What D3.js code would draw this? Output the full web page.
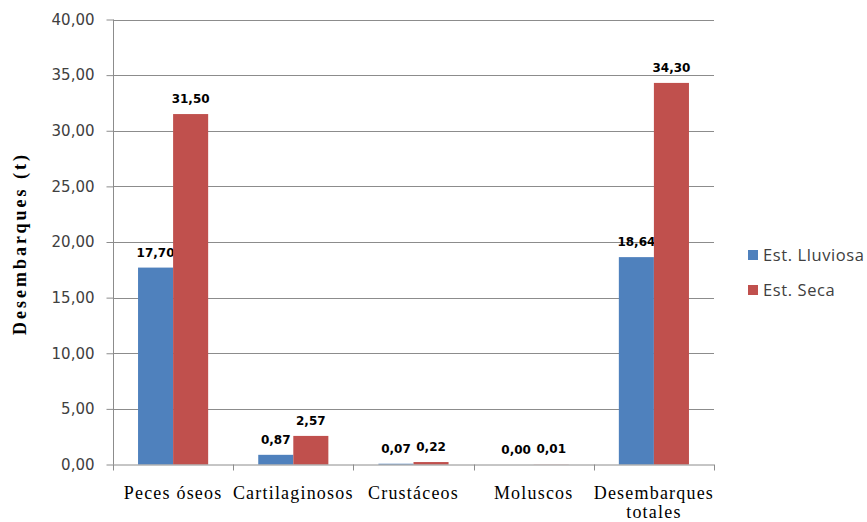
<!DOCTYPE html>
<html><head><meta charset="utf-8">
<script src="https://cdn.jsdelivr.net/npm/d3@7"></script>
<style>body{margin:0;background:#fff;} svg{display:block;}</style>
</head><body>
<svg id="c" width="867" height="522"></svg>
<script>
const categories = [["Peces óseos"], ["Cartilaginosos"], ["Crustáceos"], ["Moluscos"], ["Desembarques", "totales"]];
const seriesNames = ["Est. Lluviosa", "Est. Seca"];
const lluviosa = [17.70, 0.87, 0.07, 0.00, 18.64];
const seca = [31.50, 2.57, 0.22, 0.01, 34.30];
const yTicks = [0, 5, 10, 15, 20, 25, 30, 35, 40];
const colors = ["#4F81BD", "#C0504D"];

(function () {
const svg = d3.select("#c");
const pL = 113, pR = 714, pT = 19.5, pB = 464.5;
const fmt = v => v.toFixed(2).replace(".", ",");

const x = d3.scaleBand().domain(d3.range(categories.length)).range([pL, pR]).paddingInner(0).paddingOuter(0);
const y = d3.scaleLinear().domain([0, 40]).range([pB, pT]);
const inner = d3.scaleBand().domain([0, 1]).range([0, x.bandwidth()]).paddingOuter(25 / 35).paddingInner(0);

// gridlines
svg.append("g").selectAll("line").data(yTicks.filter(d => d > 0)).join("line")
  .attr("x1", pL).attr("x2", pR)
  .attr("y1", d => Math.round(y(d)) + 0.5).attr("y2", d => Math.round(y(d)) + 0.5)
  .attr("stroke", "#8c8c8c").attr("stroke-width", 1);

// y axis
const yAxis = d3.axisLeft(y).tickValues(yTicks).tickFormat(fmt).tickSize(7).tickPadding(12);
const gy = svg.append("g").attr("transform", `translate(${pL + 0.5},0)`).call(yAxis);
gy.select(".domain").attr("stroke", "#8c8c8c").attr("d", `M0,${pT}V${pB}`);
gy.selectAll(".tick line").attr("stroke", "#8c8c8c");
gy.selectAll(".tick text").attr("font-family", "DejaVu Sans").attr("font-size", 15).attr("fill", "#404040");

// bars
const series = [lluviosa, seca];
series.forEach((vals, si) => {
  svg.append("g").selectAll("rect").data(vals).join("rect")
    .attr("x", (d, i) => x(i) + inner(si))
    .attr("width", inner.bandwidth())
    .attr("y", d => y(d))
    .attr("height", d => pB - y(d))
    .attr("fill", colors[si]);
  svg.append("g").selectAll("text").data(vals).join("text")
    .attr("x", (d, i) => x(i) + inner(si) + inner.bandwidth() / 2)
    .attr("y", d => y(d) - 11)
    .attr("text-anchor", "middle")
    .attr("font-family", "DejaVu Sans").attr("font-weight", "bold").attr("font-size", 12)
    .attr("fill", "#000")
    .text(fmt);
});

// x axis
const xAxis = d3.axisBottom(x).tickSize(0).tickFormat(() => "");
const gx = svg.append("g").attr("transform", `translate(0,${pB + 0.5})`).call(xAxis);
gx.select(".domain").attr("stroke", "#8c8c8c").attr("d", `M${pL},0H${pR}`);
svg.append("g").selectAll("line").data(d3.range(categories.length + 1)).join("line")
  .attr("x1", i => Math.round(i < categories.length ? x(i) : pR) + 0.5)
  .attr("x2", i => Math.round(i < categories.length ? x(i) : pR) + 0.5)
  .attr("y1", pB).attr("y2", pB + 6)
  .attr("stroke", "#8c8c8c");

// category labels
const cl = svg.append("g").selectAll("text").data(categories).join("text")
  .attr("text-anchor", "middle")
  .attr("font-family", "Liberation Serif").attr("font-size", 18).attr("letter-spacing", 1.2).attr("fill", "#000");
cl.each(function(lines, i) {
  d3.select(this).selectAll("tspan").data(lines).join("tspan")
    .attr("x", x(i) + x.bandwidth() / 2)
    .attr("y", (d, j) => 499 + j * 19)
    .text(d => d);
});

// y title
svg.append("text")
  .attr("transform", "translate(26,243.5) rotate(-90)")
  .attr("text-anchor", "middle")
  .attr("font-family", "Liberation Serif").attr("font-weight", "bold").attr("font-size", 18)
  .attr("letter-spacing", 3)
  .attr("fill", "#000")
  .text("Desembarques (t)");

// legend
const lg = svg.append("g").selectAll("g").data(seriesNames).join("g")
  .attr("transform", (d, i) => `translate(748,${255 + i * 35})`);
lg.append("rect").attr("x", 0).attr("y", -5).attr("width", 10).attr("height", 10).attr("fill", (d, i) => colors[i]);
lg.append("text").attr("x", 15).attr("y", 6)
  .attr("font-family", "Open Sans").attr("font-size", 16.5).attr("letter-spacing", 0.6).attr("fill", "#404040")
  .text(d => d);
})();
</script>
</body></html>
